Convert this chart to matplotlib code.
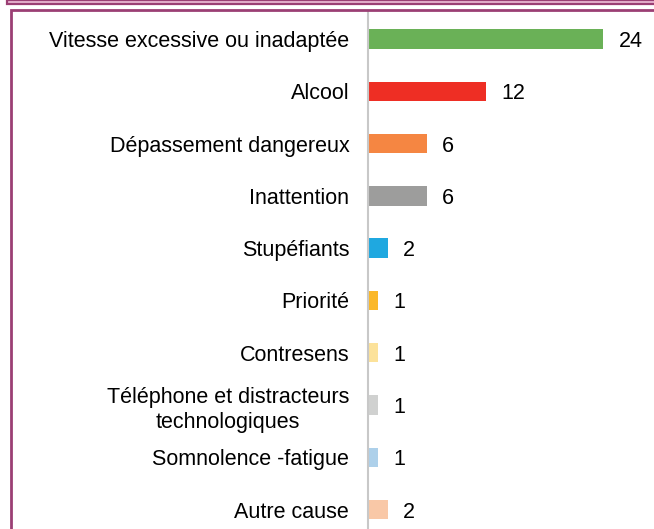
import numpy as np
import matplotlib.pyplot as plt
from matplotlib.patches import Rectangle

plt.rcParams['font.family'] = ['Liberation Sans', 'DejaVu Sans']

causes = ["Vitesse excessive ou inadaptée", "Alcool", "Dépassement dangereux",
          "Inattention", "Stupéfiants", "Priorité", "Contresens",
          "Téléphone et distracteurs\ntechnologiques", "Somnolence -fatigue",
          "Autre cause"]
valeurs = [24, 12, 6, 6, 2, 1, 1, 1, 1, 2]
couleurs = ["#6AB157", "#EE2E24", "#F58642", "#9D9D9C", "#1FA8E0",
            "#FBB829", "#FCE29A", "#D0D1D0", "#ADD0EA", "#F9C8A7"]

W, H = 654, 529
fig = plt.figure(figsize=(W / 100, H / 100), dpi=100)

# cadre (morceau de l'encadre du dessus + encadre du graphique)
fig.patches.append(Rectangle((7 / W, 1 - 4 / H), 1, 4 / H, transform=fig.transFigure,
                             facecolor="#E9B8D2", edgecolor="#9B3F74", linewidth=1.6))
fig.patches.append(Rectangle((10.5 / W, -0.1), 1, 1.1 - 10 / H, transform=fig.transFigure,
                             facecolor="none", edgecolor="#9B3F74", linewidth=2))

ax = fig.add_axes([368 / W, 0, (W - 368) / W, (H - 11) / H])
y = np.arange(len(causes))
ax.barh(y, valeurs, height=0.37, color=couleurs)
for yi, v in zip(y, valeurs):
    ax.annotate(str(v), (v, yi), xytext=(11, 0), textcoords="offset points",
                va="center_baseline", ha="left", fontsize=15.5)

ax.set_xlim(0, (W - 368) / 9.8)
ax.set_ylim(9.37, -0.534)
ax.set_yticks(y)
ax.set_yticklabels(causes, fontsize=15.5, linespacing=1.3, multialignment="center")
ax.tick_params(axis="y", length=0, pad=13.5)
ax.set_xticks([])
for s in ["top", "right", "bottom"]:
    ax.spines[s].set_visible(False)
ax.spines["left"].set_color("#C8C8C8")
ax.spines["left"].set_linewidth(1.5)

plt.savefig("out.png", dpi=100)
